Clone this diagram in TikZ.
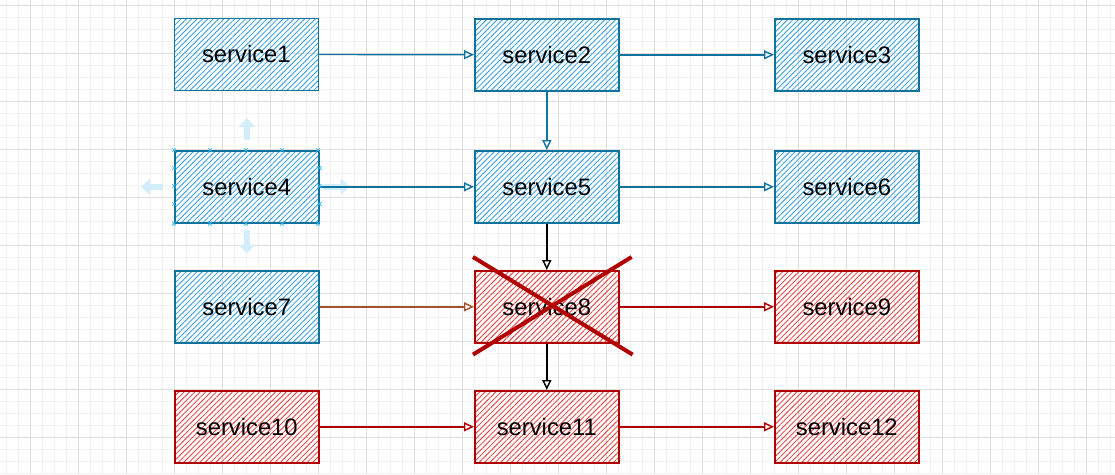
\documentclass[tikz,border=0pt]{standalone}
\usepackage{fontspec}
\setmainfont{Liberation Sans}
\usetikzlibrary{arrows.meta,patterns.meta}
\definecolor{bstroke}{HTML}{10739E}
\definecolor{bhatch}{HTML}{2E9FE0}
\definecolor{rstroke}{HTML}{B20000}
\definecolor{rhatch}{HTML}{E63A3A}
\definecolor{edgebrown}{HTML}{A0522D}
\definecolor{gridmaj}{HTML}{DEDEDE}
\definecolor{gridmin}{HTML}{F2F2F2}
\definecolor{hintcol}{HTML}{D4EDFA}
\definecolor{handlecol}{HTML}{29B6F2}
\begin{document}
\begin{tikzpicture}[x=1pt,y=-1pt,
  svc/.style={minimum width=144pt, minimum height=72pt, inner sep=0pt, line width=1.6pt,
    font=\fontsize{23.8}{28}\selectfont, anchor=north west,
    pattern={Lines[angle=45,distance=3.8pt,line width=0.8pt]}},
  bluebox/.style={svc, draw=bstroke, pattern color=bhatch},
  redbox/.style={svc, draw=rstroke, pattern color=rhatch},
  conn/.style={-{Triangle[open,length=10pt,width=9pt]}, line width=1.4pt},
  blueconn/.style={conn, draw=bstroke},
  redconn/.style={conn, draw=rstroke},
  blackconn/.style={conn, draw=black},
  brownconn/.style={conn, draw=edgebrown},
  hint/.style={draw=hintcol, line width=6pt, -{Triangle[length=9pt,width=16pt]}},
  handle/.style={draw=handlecol, line width=0.6pt},
  cross/.style={draw=rstroke, line width=4pt}
]
\useasboundingbox (0,0) rectangle (1115,474);
\fill[white] (0,0) rectangle (1115,474);
% grid
\foreach \x in {6,18,...,1114} \draw[gridmin, line width=0.8pt] (\x,0) -- (\x,474);
\foreach \y in {5,17,...,473} \draw[gridmin, line width=0.8pt] (0,\y) -- (1115,\y);
\foreach \x in {30,78,...,1114} \draw[gridmaj, line width=1pt] (\x,0) -- (\x,474);
\foreach \y in {5,53,...,473} \draw[gridmaj, line width=1pt] (0,\y) -- (1115,\y);

% nodes
\node[bluebox] (s1) at (174,18) {service1};
\node[bluebox] (s2) at (474,18) {service2};
\node[bluebox] (s3) at (774,18) {service3};
\node[bluebox] (s4) at (174,150) {service4};
\node[bluebox] (s5) at (474,150) {service5};
\node[bluebox] (s6) at (774,150) {service6};
\node[bluebox] (s7) at (174,270) {service7};
\node[redbox] (s8) at (474,270) {service8};
\node[redbox] (s9) at (774,270) {service9};
\node[redbox] (s10) at (174,390) {service10};
\node[redbox] (s11) at (474,390) {service11};
\node[redbox] (s12) at (774,390) {service12};

% hover hints around service4
\draw[hint] ([yshift=10pt]s4.north) -- ([yshift=32pt]s4.north);
\draw[hint] ([yshift=-6pt]s4.south) -- ([yshift=-30pt]s4.south);
\draw[hint] ([xshift=-11pt]s4.west) -- ([xshift=-33pt]s4.west);
\draw[hint] ([xshift=3pt]s4.east) -- ([xshift=30pt]s4.east);

% connectors
\draw[blueconn] (s1) -- (s2);
\draw[blueconn] (s2) -- (s3);
\draw[blueconn] (s2) -- (s5);
\draw[blueconn] (s4) -- (s5);
\draw[blueconn] (s5) -- (s6);
\draw[blackconn] (s5) -- (s8);
\draw[brownconn] (s7) -- (s8);
\draw[redconn] (s8) -- (s9);
\draw[blackconn] (s8) -- (s11);
\draw[redconn] (s10) -- (s11);
\draw[redconn] (s11) -- (s12);

% selection handles on service4
\foreach \f in {0,36,72,108,144} {
  \draw[handle] ([xshift=\f pt-2pt,yshift=2pt]s4.north west) -- ++(4pt,-4pt)
                ([xshift=\f pt-2pt,yshift=-2pt]s4.north west) -- ++(4pt,4pt);
  \draw[handle] ([xshift=\f pt-2pt,yshift=2pt]s4.south west) -- ++(4pt,-4pt)
                ([xshift=\f pt-2pt,yshift=-2pt]s4.south west) -- ++(4pt,4pt);
}
\foreach \f in {18,36,54} {
  \draw[handle] ([xshift=-2pt,yshift=-\f pt+2pt]s4.north west) -- ++(4pt,-4pt)
                ([xshift=-2pt,yshift=-\f pt-2pt]s4.north west) -- ++(4pt,4pt);
  \draw[handle] ([xshift=-2pt,yshift=-\f pt+2pt]s4.north east) -- ++(4pt,-4pt)
                ([xshift=-2pt,yshift=-\f pt-2pt]s4.north east) -- ++(4pt,4pt);
}

% cross over service8
\coordinate (c1) at ([xshift=-1pt,yshift=13pt]s8.north west);
\coordinate (c2) at ([xshift=13pt,yshift=-11pt]s8.south east);
\coordinate (c3) at ([xshift=12pt,yshift=13pt]s8.north east);
\coordinate (c4) at ([xshift=-1pt,yshift=-11pt]s8.south west);
\draw[cross] (c1) -- (c2);
\draw[cross] (c3) -- (c4);
\end{tikzpicture}
\end{document}
